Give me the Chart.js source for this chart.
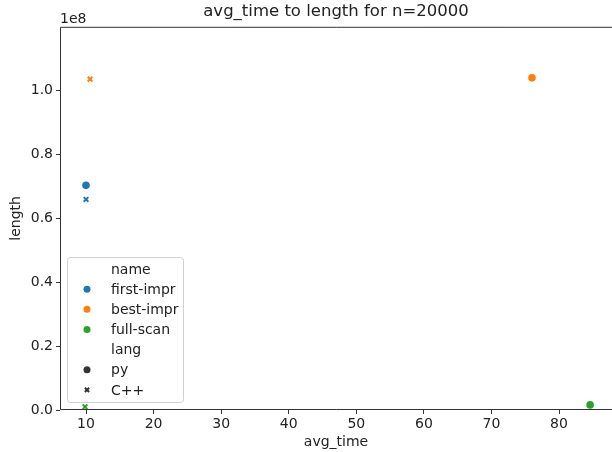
<!DOCTYPE html>
<html>
<head>
<meta charset="utf-8">
<script src="https://cdn.jsdelivr.net/npm/chart.js@4"></script>
<style>
  html, body { margin: 0; padding: 0; background: #fff; overflow: hidden; }
</style>
</head>
<body>
<canvas id="chart" width="612" height="452"></canvas>
<script>
// data
const names = ['first-impr', 'best-impr', 'full-scan'];
const langs = ['py', 'C++'];
const avgTimePy = [10.0, 76.0, 84.6];
const lengthPy = [70.2e6, 103.8e6, 1.6e6];
const avgTimeCpp = [10.0, 10.6, 9.85];
const lengthCpp = [65.8e6, 103.4e6, 1.0e6];
const xTicks = [10, 20, 30, 40, 50, 60, 70, 80];
const yTicks = [0, 0.2e8, 0.4e8, 0.6e8, 0.8e8, 1.0e8];

const colors = ['#1f77b4', '#ff7f0e', '#2ca02c'];
const langStyles = ['circle', 'crossRot'];
const FONT = 'DejaVu Sans';
const TEXT = '#222';

const datasets = [];
names.forEach((name, i) => {
  langs.forEach((lang, j) => {
    const xs = j === 0 ? avgTimePy : avgTimeCpp;
    const ys = j === 0 ? lengthPy : lengthCpp;
    datasets.push({
      label: name + ' ' + lang,
      data: [{ x: xs[i], y: ys[i] }],
      pointStyle: langStyles[j],
      pointRadius: j === 0 ? 3.8 : 3.3,
      borderWidth: j === 0 ? 0 : 2,
      backgroundColor: colors[i],
      borderColor: colors[i],
      clip: false
    });
  });
});

// legend + frame + offset label, drawn the matplotlib way
const extras = {
  id: 'extras',
  afterDatasetsDraw(chart) {
    const { ctx, chartArea: a } = chart;
    ctx.save();
    // frame (right spine falls outside the picture)
    ctx.strokeStyle = '#333';
    ctx.lineWidth = 1;
    ctx.beginPath();
    ctx.moveTo(chart.width, a.top + 0.5);
    ctx.lineTo(a.left + 0.5, a.top + 0.5);
    ctx.lineTo(a.left + 0.5, a.bottom - 0.5);
    ctx.lineTo(chart.width, a.bottom - 0.5);
    ctx.stroke();

    // 1e8 offset text
    ctx.fillStyle = TEXT;
    ctx.font = '14px "' + FONT + '"';
    ctx.textAlign = 'left';
    ctx.textBaseline = 'alphabetic';
    ctx.fillText('1e8', a.left, a.top - 4);

    // legend box
    const bx = 67, by = 257, bw = 116, bh = 145;
    ctx.beginPath();
    ctx.roundRect(bx + 0.5, by + 0.5, bw, bh, 3);
    ctx.fillStyle = 'rgba(255,255,255,0.8)';
    ctx.fill();
    ctx.strokeStyle = '#d0d0d0';
    ctx.stroke();

    const rows = [
      { text: 'name' },
      { text: names[0], color: colors[0], style: 'circle' },
      { text: names[1], color: colors[1], style: 'circle' },
      { text: names[2], color: colors[2], style: 'circle' },
      { text: 'lang' },
      { text: langs[0], color: '#333', style: langStyles[0] },
      { text: langs[1], color: '#333', style: langStyles[1] }
    ];
    ctx.textBaseline = 'middle';
    rows.forEach((r, k) => {
      const y = 269 + k * 20.15;
      if (r.color) {
        ctx.fillStyle = r.color;
        ctx.strokeStyle = r.color;
        ctx.lineWidth = r.style === 'circle' ? 0 : 2;
        Chart.helpers.drawPoint(ctx, {
          pointStyle: r.style,
          radius: r.style === 'circle' ? 3.5 : 3,
          rotation: 0,
          borderWidth: r.style === 'circle' ? 0 : 2
        }, 87, y);
      }
      ctx.fillStyle = TEXT;
      ctx.fillText(r.text, 111, y + 1);
    });
    ctx.restore();
  }
};

new Chart(document.getElementById('chart'), {
  type: 'scatter',
  data: { datasets },
  plugins: [extras],
  options: {
    responsive: false,
    animation: false,
    layout: { padding: 0, autoPadding: false },
    plugins: {
      legend: { display: false },
      tooltip: { enabled: false },
      title: {
        display: true,
        fullSize: false,
        text: 'avg_time to length for n=20000',
        color: TEXT,
        font: { family: FONT, size: 16.5, weight: 'normal' },
        padding: { top: 2, bottom: 5 }
      }
    },
    scales: {
      x: {
        type: 'linear',
        min: 6.15,
        max: 87.84,
        afterBuildTicks: s => { s.ticks = xTicks.map(v => ({ value: v })); },
        afterFit: s => { s.height = 42; s.paddingLeft = 0; s.paddingRight = 0; },
        border: { display: false },
        grid: { drawOnChartArea: false, drawTicks: true, tickLength: 4, color: '#333' },
        ticks: { color: TEXT, font: { family: FONT, size: 14 }, padding: 2, maxRotation: 0 },
        title: {
          display: true, text: 'avg_time', color: TEXT,
          font: { family: FONT, size: 14 }, padding: { top: 0, bottom: 1 }
        }
      },
      y: {
        type: 'linear',
        min: 0,
        max: 1.1975e8,
        afterBuildTicks: s => { s.ticks = yTicks.map(v => ({ value: v })); },
        afterFit: s => { s.width = 60; s.paddingTop = 0; s.paddingBottom = 0; },
        border: { display: false },
        grid: { drawOnChartArea: false, drawTicks: true, tickLength: 4, color: '#333' },
        ticks: {
          color: TEXT, font: { family: FONT, size: 14 }, padding: 3,
          callback: v => (v / 1e8).toFixed(1)
        },
        title: {
          display: true, text: 'length', color: TEXT,
          font: { family: FONT, size: 14 }, padding: { top: 8, bottom: 0 }
        }
      }
    }
  }
});
</script>
</body>
</html>
